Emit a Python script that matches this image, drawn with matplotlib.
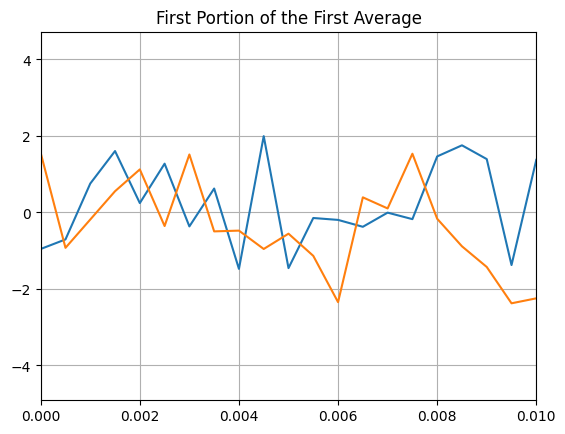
import numpy as np
import matplotlib
matplotlib.use("Agg")
import matplotlib.pyplot as plt

t = np.arange(21) * 0.0005
avg_a = [-0.96, -0.71, 0.75, 1.60, 0.24, 1.27, -0.37, 0.62, -1.48, 1.99, -1.46,
         -0.15, -0.20, -0.38, -0.01, -0.18, 1.46, 1.75, 1.39, -1.38, 1.37]
avg_b = [1.55, -0.93, -0.19, 0.55, 1.12, -0.36, 1.51, -0.50, -0.48, -0.96, -0.56,
         -1.14, -2.35, 0.39, 0.10, 1.53, -0.17, -0.89, -1.43, -2.38, -2.25]

W, H = 565, 435
fig = plt.figure(figsize=(W / 100, H / 100), dpi=100)
ax = fig.add_axes([40.7 / W, (H - 400.7) / H, 495.6 / W, 368 / H])

ax.plot(t, avg_a)
ax.plot(t, avg_b)
ax.set_xlim(0, 0.010)
ax.set_ylim(-4.9, 4.72)
ax.set_xticks([0, 0.002, 0.004, 0.006, 0.008, 0.010])
ax.set_yticks([-4, -2, 0, 2, 4])
ax.grid(True)
ax.set_title("First Portion of the First Average")

fig.savefig("out.png", dpi=100)
